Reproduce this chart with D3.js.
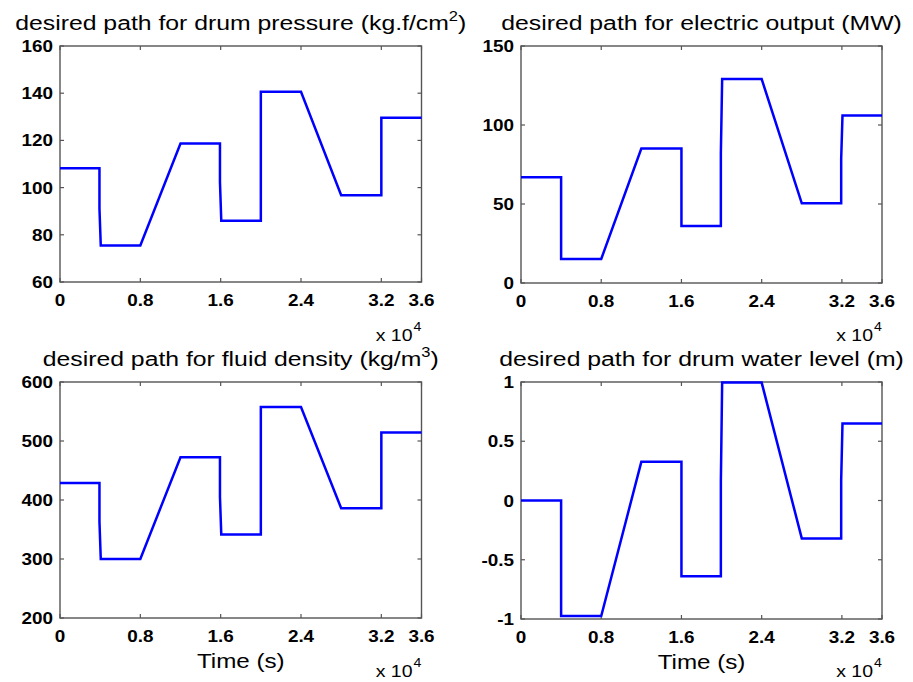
<!DOCTYPE html>
<html>
<head>
<meta charset="utf-8">
<script src="https://cdn.jsdelivr.net/npm/d3@7"></script>
<style>
  body { margin: 0; background: #fff; }
  svg { display: block; }
  text { font-family: "Liberation Sans", Arial, Helvetica, sans-serif; fill: #000; }
</style>
</head>
<body>
<div id="container"></div>
<script>
// data (time in seconds)
const xTicks = [0, 8000, 16000, 24000, 32000, 36000];
const xTickLabels = ["0", "0.8", "1.6", "2.4", "3.2", "3.6"];

const pressureT = [0, 3930, 3930, 4060, 8000, 12000, 15930, 15930, 16060, 20000, 20000, 24000, 28000, 32000, 32000, 36000];
const pressureV = [108.2, 108.2, 91.1, 75.5, 75.5, 118.7, 118.7, 102.4, 86, 86, 140.6, 140.6, 96.8, 96.8, 129.6, 129.6];
const pressureTicks = [60, 80, 100, 120, 140, 160];

const powerT = [0, 4000, 4000, 8000, 12000, 16000, 16000, 19930, 19930, 20060, 24000, 28000, 31930, 31930, 32060, 36000];
const powerV = [66.9, 66.9, 15.2, 15.2, 85.1, 85.1, 36, 36, 81.9, 129.1, 129.1, 50.4, 50.4, 78.7, 106, 106];
const powerTicks = [0, 50, 100, 150];

const densityT = [0, 3930, 3930, 4060, 8000, 12000, 15930, 15930, 16060, 20000, 20000, 24000, 28000, 32000, 32000, 36000];
const densityV = [429, 429, 363, 300, 300, 472.5, 472.5, 405, 341.7, 341.7, 557.7, 557.7, 386.2, 386.2, 514.3, 514.3];
const densityTicks = [200, 300, 400, 500, 600];

const levelT = [0, 4000, 4000, 8000, 12000, 16000, 16000, 19930, 19930, 20060, 24000, 28000, 31930, 31930, 32060, 36000];
const levelV = [0, 0, -0.975, -0.975, 0.326, 0.326, -0.64, -0.64, 0.16, 0.995, 0.995, -0.32, -0.32, 0.17, 0.65, 0.65];
const levelTicks = [-1, -0.5, 0, 0.5, 1];

const w = 913;
const h = 682;
const stretch = 1.18; // glyphs in the picture are a little wide

let viz = d3.select("#container")
  .append("svg")
    .attr("width", w)
    .attr("height", h)
;

function addText(g, x, y, str, size, weight, anchor){
  return g.append("text")
    .attr("transform", "translate(" + x + "," + y + ") scale(" + stretch + ",1)")
    .attr("font-size", size)
    .attr("font-weight", weight)
    .attr("text-anchor", anchor)
    .text(str);
}

function drawPanel(p){
  let xScale = d3.scaleLinear().domain([0, 36000]).range([p.left, p.right]);
  let yScale = d3.scaleLinear().domain(p.domain).range([p.bottom, p.top]);
  let g = viz.append("g");

  // box
  g.append("rect")
    .attr("x", p.left).attr("y", p.top)
    .attr("width", p.right - p.left).attr("height", p.bottom - p.top)
    .attr("fill", "none").attr("stroke", "#555").attr("stroke-width", 1.4);

  // inward ticks on all four sides
  xTicks.forEach(function(t, i){
    let x = xScale(t);
    g.append("line").attr("x1", x).attr("x2", x).attr("y1", p.bottom).attr("y2", p.bottom - 4)
      .attr("stroke", "#555").attr("stroke-width", 1.2);
    g.append("line").attr("x1", x).attr("x2", x).attr("y1", p.top).attr("y2", p.top + 4)
      .attr("stroke", "#555").attr("stroke-width", 1.2);
    addText(g, x, p.bottom + 24, xTickLabels[i], 16, "bold", "middle");
  });
  p.ticks.forEach(function(v){
    let y = yScale(v);
    g.append("line").attr("x1", p.left).attr("x2", p.left + 4).attr("y1", y).attr("y2", y)
      .attr("stroke", "#555").attr("stroke-width", 1.2);
    g.append("line").attr("x1", p.right).attr("x2", p.right - 4).attr("y1", y).attr("y2", y)
      .attr("stroke", "#555").attr("stroke-width", 1.2);
    addText(g, p.left - 7, y + 6, String(v), 16, "bold", "end");
  });

  // data line
  let pts = p.t.map(function(t, i){ return {t: t, v: p.v[i]}; });
  let lineMaker = d3.line()
    .x(function(d){ return xScale(d.t); })
    .y(function(d){ return yScale(d.v); });
  g.append("path")
    .datum(pts)
    .attr("d", lineMaker)
    .attr("fill", "none")
    .attr("stroke", "#0000ff")
    .attr("stroke-width", 2.5)
    .attr("stroke-linejoin", "miter");

  // title
  let cx = (p.left + p.right) / 2;
  let title = addText(g, cx, p.top - 16, "", 21, "normal", "middle");
  title.append("tspan").text(p.title);
  if (p.sup) {
    title.append("tspan").attr("dy", -9).attr("font-size", 14).text(p.sup);
    title.append("tspan").attr("dy", 9).text(p.titleEnd);
  }

  // exponent label
  addText(g, p.right - 9, p.expY, "x 10", 16.5, "normal", "end");
  addText(g, p.right - 8, p.expY - 10, "4", 12, "normal", "start");

  if (p.xlabel) {
    addText(g, cx, p.bottom + 50, p.xlabel, 20.5, "normal", "middle");
  }
}

drawPanel({
  left: 60, right: 421.5, top: 46, bottom: 282,
  domain: [60, 160], ticks: pressureTicks, t: pressureT, v: pressureV,
  title: "desired path for drum pressure (kg.f/cm", sup: "2", titleEnd: ")",
  expY: 341
});
drawPanel({
  left: 521, right: 882, top: 46, bottom: 283,
  domain: [0, 150], ticks: powerTicks, t: powerT, v: powerV,
  title: "desired path for electric output (MW)",
  expY: 341
});
drawPanel({
  left: 60, right: 421.5, top: 382, bottom: 618,
  domain: [200, 600], ticks: densityTicks, t: densityT, v: densityV,
  title: "desired path for fluid density (kg/m", sup: "3", titleEnd: ")",
  expY: 677, xlabel: "Time (s)"
});
drawPanel({
  left: 521, right: 882, top: 382, bottom: 619,
  domain: [-1, 1], ticks: levelTicks, t: levelT, v: levelV,
  title: "desired path for drum water level (m)",
  expY: 677, xlabel: "Time (s)"
});
</script>
</body>
</html>
